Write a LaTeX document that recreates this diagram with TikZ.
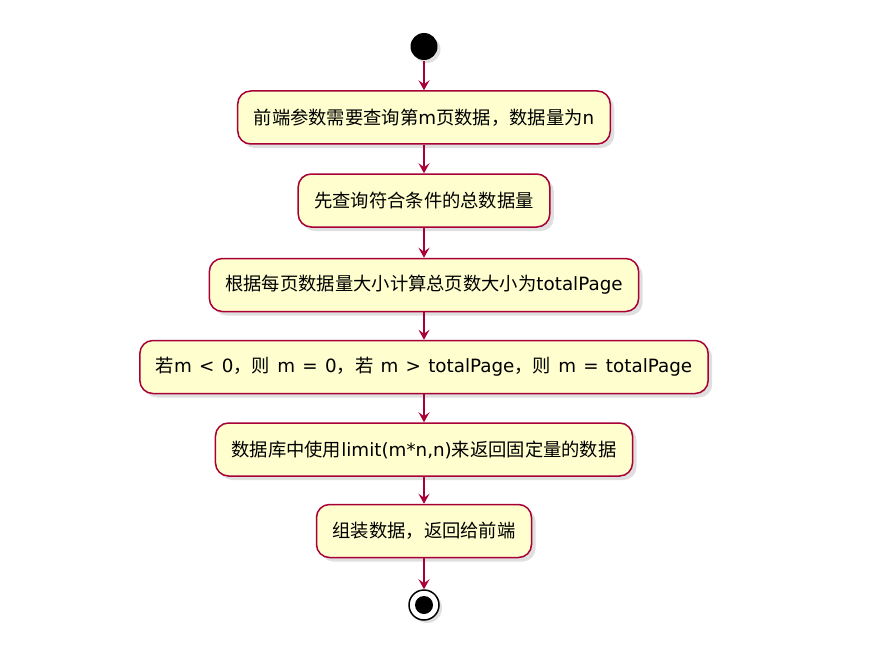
\documentclass[tikz,border=0pt]{standalone}
\usepackage{fontspec}
\newfontfamily\cjk{Noto Sans CJK SC}
\newfontfamily\enfont[WordSpace=1.25]{DejaVu Sans}
\newcommand{\enw}[1]{{\enfont #1}}
\usetikzlibrary{arrows.meta,shadows}
\definecolor{umlred}{HTML}{A80036}
\definecolor{umlfill}{HTML}{FEFECE}

\begin{document}
\begin{tikzpicture}[
    x=1pt, y=-1pt,
    >={Stealth[length=10pt, width=11pt, inset=4pt]},
    line width=1.5pt,
    act/.style={rounded corners=13pt, draw=umlred, fill=umlfill,
        minimum height=53pt, inner xsep=16pt, inner ysep=0pt,
        font=\cjk\fontsize{18.3}{20}\selectfont,
        drop shadow={shadow xshift=4pt, shadow yshift=-4pt, opacity=0.25}},
    startdot/.style={circle, fill=black, minimum size=27pt, inner sep=0pt,
        drop shadow={shadow xshift=3pt, shadow yshift=-3pt, opacity=0.25}},
    stopdot/.style={circle, draw=black, fill=white, minimum size=30pt, inner sep=0pt,
        path picture={\fill[black] (path picture bounding box.center) circle (9pt);},
        drop shadow={shadow xshift=3pt, shadow yshift=-3pt, opacity=0.25}}
]
  \useasboundingbox (0,0) rectangle (894,650);

  % nodes
  \node[startdot] (start) at (424,46.5) {};
  \node[act] (p1) at (424,117.5) {前端参数需要查询第\enw{m}页数据，数据量为\enw{n}};
  \node[act] (p2) at (424,200.5) {先查询符合条件的总数据量};
  \node[act] (p3) at (424,285)   {根据每页数据量大小计算总页数大小为\enw{totalPage}};
  \node[act] (p4) at (424,367)   {若\enw{m < 0}，则\enw{ m = 0}，若\enw{ m > totalPage}，则\enw{ m = totalPage}};
  \node[act] (p5) at (424,449.5) {数据库中使用\enw{limit(m*n,n)}来返回固定量的数据};
  \node[act] (p6) at (424,531)   {组装数据，返回给前端};
  \node[stopdot] (stop) at (424,605) {};

  % edges
  \draw[->, umlred] (start) -- (p1);
  \draw[->, umlred] (p1) -- (p2);
  \draw[->, umlred] (p2) -- (p3);
  \draw[->, umlred] (p3) -- (p4);
  \draw[->, umlred] (p4) -- (p5);
  \draw[->, umlred] (p5) -- (p6);
  \draw[->, umlred] (p6) -- (stop);
\end{tikzpicture}
\end{document}
